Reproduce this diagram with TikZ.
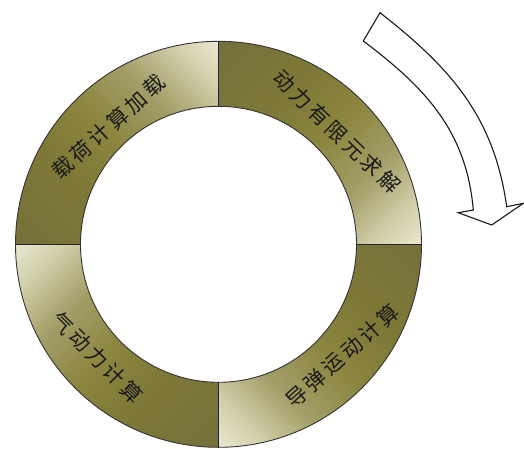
\documentclass[tikz,border=0pt]{standalone}
\usepackage{fontspec}
\newfontfamily\cjk[LetterSpace=16]{Noto Sans CJK SC}
\definecolor{qdark}{HTML}{75703A}
\definecolor{qdarkb}{HTML}{7E7838}
\definecolor{qmid}{HTML}{8B853F}
\definecolor{qmidb}{HTML}{A39E68}
\definecolor{qlightb}{HTML}{CFCCA6}
\definecolor{qlight}{HTML}{ECEAD6}
\pgfdeclarehorizontalshading{quadshade}{100bp}{color(0bp)=(qdark); color(25bp)=(qdark); color(40bp)=(qdarkb); color(50bp)=(qmid); color(60bp)=(qmidb); color(68bp)=(qlightb); color(75bp)=(qlight); color(100bp)=(qlight)}
\tikzset{
  lbl/.style={font=\cjk\fontsize{21}{21}\selectfont, text=black!90, inner sep=0pt},
  ringline/.style={draw=black!80, line width=0.9pt},
  divline/.style={draw=black!85, line width=1.4pt},
  bigarrow/.style={draw=black!90, line width=1.1pt, fill=white, line join=miter}
}
\begin{document}
\begin{tikzpicture}[x=1pt,y=1pt]
\useasboundingbox (-218.5,-203.7) rectangle (305.5,244.3);
\fill[white] (-218.5,-203.7) rectangle (305.5,244.3);
\def\Ro{203}
\def\Ri{138}
\foreach \a/\rot in {90/45, 0/-45, -90/-135, 180/135}{
  \begin{scope}
    \clip (\a:\Ri) -- (\a:\Ro) arc[start angle=\a, end angle=\a+90, radius=\Ro]
          -- ({\a+90}:\Ri) arc[start angle=\a+90, end angle=\a, radius=\Ri] -- cycle;
    \shade[shading=quadshade, transform canvas={rotate=\rot}] (-146,85) rectangle (146,215);
  \end{scope}
}
\draw[ringline] (0,0) circle[radius=\Ro];
\draw[ringline] (0,0) circle[radius=\Ri];
\coordinate (n1) at (0,\Ri); \coordinate (n2) at (0,\Ro);
\coordinate (e1) at (\Ri,0); \coordinate (e2) at (\Ro,0);
\coordinate (s1) at (0,-\Ri); \coordinate (s2) at (0,-\Ro);
\coordinate (w1) at (-\Ri,0); \coordinate (w2) at (-\Ro,0);
\draw[divline] (n1) -- (n2);
\draw[divline] (e1) -- (e2);
\draw[divline] (s1) -- (s2);
\draw[divline] (w1) -- (w2);
\node[lbl, rotate=42] (t1) at (-110,117.6) {载荷计算加载};
\node[lbl, rotate=-44] (t2) at (118.2,112.6) {动力有限元求解};
\node[lbl, rotate=42] (t3) at (124,-111.5) {导弹运动计算};
\node[lbl, rotate=-45] (t4) at (-121,-113.2) {气动力计算};
% curved arrow
\draw[bigarrow] (144.8,203.3) to[out=-37, in=95] (254.8,34.3)
  -- (239.8,31.6) -- (273.2,19.3) -- (304.8,41) -- (288.2,37.6)
  to[out=98, in=-38] (161.5,231.6) -- cycle;
\end{tikzpicture}
\end{document}
